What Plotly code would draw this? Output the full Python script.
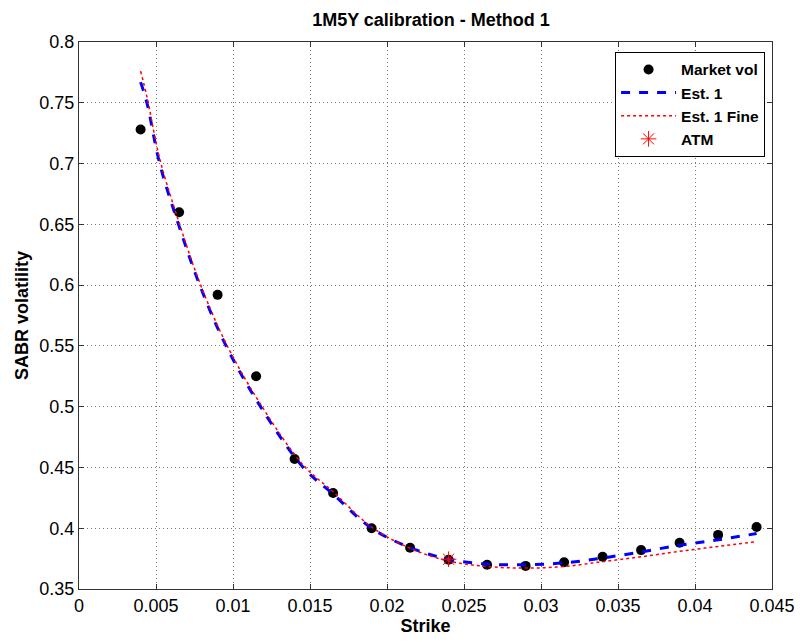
import plotly.graph_objects as go

# Market data
strikes = [0.004, 0.0065, 0.009, 0.0115, 0.014, 0.0165, 0.019, 0.0215, 0.024,
           0.0265, 0.029, 0.0315, 0.034, 0.0365, 0.039, 0.0415, 0.044]
market_vol = [0.728, 0.660, 0.592, 0.525, 0.457, 0.429, 0.400, 0.384, 0.374,
              0.370, 0.369, 0.372, 0.3765, 0.382, 0.388, 0.3945, 0.401]

# Est. 1 curve
est1_x = [0.004, 0.00441, 0.00524, 0.00646, 0.00784, 0.00955, 0.01179, 0.01456,
          0.0165, 0.019, 0.0215, 0.024, 0.0265, 0.029, 0.0315, 0.034, 0.0365,
          0.039, 0.0415, 0.044]
est1_y = [0.767, 0.750, 0.700, 0.650, 0.600, 0.550, 0.500, 0.450,
          0.428, 0.400, 0.384, 0.3745, 0.3705, 0.370, 0.3715, 0.3755, 0.3805,
          0.386, 0.3905, 0.3956]

# Est. 1 Fine curve
fine_x = est1_x
fine_y = [0.776, 0.755, 0.704, 0.653, 0.602, 0.552, 0.502, 0.452,
          0.430, 0.401, 0.3835, 0.373, 0.3685, 0.3672, 0.3685, 0.3725, 0.3765,
          0.381, 0.385, 0.389]

# ATM point
atm_x = [0.024]
atm_y = [0.3745]

x_ticks = [0, 0.005, 0.01, 0.015, 0.02, 0.025, 0.03, 0.035, 0.04, 0.045]
x_labels = ["0", "0.005", "0.01", "0.015", "0.02", "0.025", "0.03", "0.035", "0.04", "0.045"]
y_ticks = [0.35, 0.4, 0.45, 0.5, 0.55, 0.6, 0.65, 0.7, 0.75, 0.8]
y_labels = ["0.35", "0.4", "0.45", "0.5", "0.55", "0.6", "0.65", "0.7", "0.75", "0.8"]

FONT = "Liberation Sans, Arial, sans-serif"

fig = go.Figure()
fig.add_trace(go.Scatter(x=strikes, y=market_vol, mode="markers", name="<b>Market vol</b>",
                         marker=dict(color="black", size=10, symbol="circle")))
fig.add_trace(go.Scatter(x=est1_x, y=est1_y, mode="lines", name="<b>Est. 1</b>",
                         line=dict(color="#0000ff", width=3, dash="dash", shape="spline")))
fig.add_trace(go.Scatter(x=fine_x, y=fine_y, mode="lines", name="<b>Est. 1 Fine</b>",
                         line=dict(color="#ff0000", width=1.5, dash="dot", shape="spline")))
fig.add_trace(go.Scatter(x=atm_x, y=atm_y, mode="markers", name="<b>ATM</b>",
                         marker=dict(color="#ff0000", size=13, symbol="asterisk-open",
                                     line=dict(color="#ff0000", width=1))))

axis_common = dict(
    showgrid=True, gridcolor="#777777", griddash="1px,3px", gridwidth=1,
    showline=True, linecolor="#333333", linewidth=1, mirror="ticks",
    ticks="inside", ticklen=5, tickcolor="#333333",
    tickfont=dict(family=FONT, size=18, color="black"),
    zeroline=False,
)

fig.update_layout(
    width=807, height=642,
    margin=dict(l=79, r=24, t=42, b=44),
    paper_bgcolor="white", plot_bgcolor="white",
    title=dict(text="<b>1M5Y calibration - Method 1</b>", x=(79 + 352) / 807, xanchor="center",
               y=1 - 20 / 642, yanchor="middle",
               font=dict(family=FONT, size=18, color="black")),
    xaxis=dict(range=[0, 0.045], tickvals=x_ticks, ticktext=x_labels,
               title=dict(text="<b>Strike</b>", font=dict(family=FONT, size=18, color="black"),
                          standoff=2),
               **axis_common),
    yaxis=dict(range=[0.35, 0.8], tickvals=y_ticks, ticktext=y_labels,
               title=dict(text="<b>SABR volatility</b>", font=dict(family=FONT, size=18, color="black"),
                          standoff=6),
               **axis_common),
    legend=dict(x=0.990, y=0.982, xanchor="right", yanchor="top",
                bgcolor="white", bordercolor="black", borderwidth=1,
                font=dict(family=FONT, size=15.5, color="black"),
                tracegroupgap=0, itemwidth=55),
    showlegend=True,
)

fig.write_html("out.html")
